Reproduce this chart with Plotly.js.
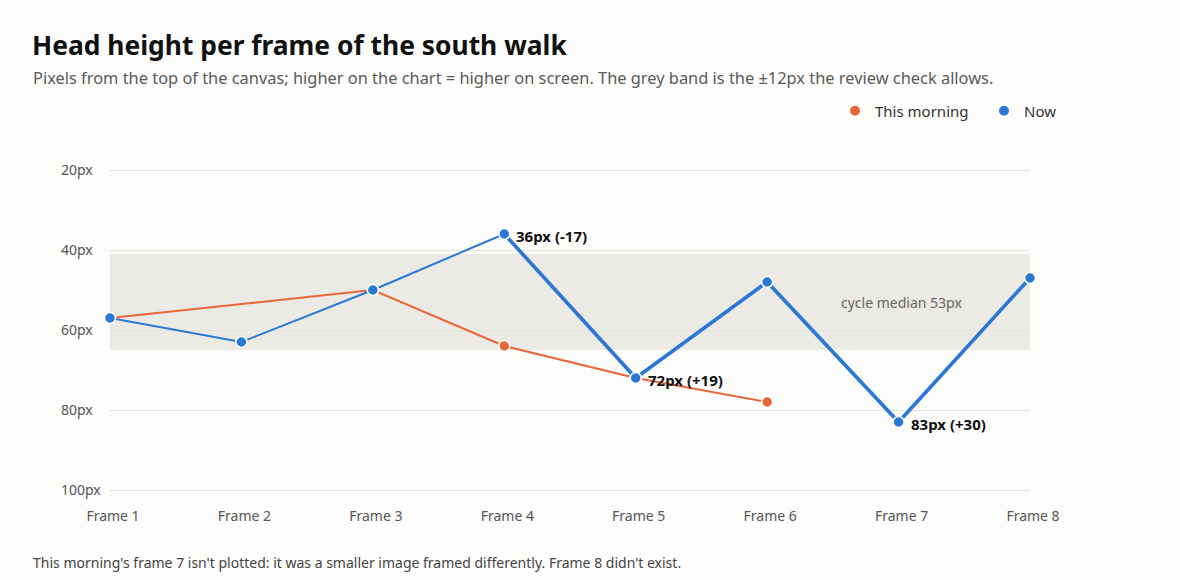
<!DOCTYPE html>
<html>
<head>
<meta charset="utf-8">
<script src="https://cdn.plot.ly/plotly-3.0.1.min.js"></script>
<style>
  html, body { margin: 0; padding: 0; background: #FCFCFB; }
  #chart { width: 1180px; height: 580px; }
</style>
</head>
<body>
<div id="chart"></div>
<script>
const frames = ["Frame 1", "Frame 2", "Frame 3", "Frame 4", "Frame 5", "Frame 6", "Frame 7", "Frame 8"];
const morningValues = [57, null, 50, 64, 72, 78, null, null];
const nowValues = [57, 63, 50, 36, 72, 48, 83, 47];
const highlightFrom = 3; // index of Frame 4, where the thick stretch starts
const medianValue = 53;
const tolerance = 12;
const yTickValues = [20, 40, 60, 80, 100];
const yTickLabels = ["20px", "40px", "60px", "80px", "100px"];
const calloutFrames = ["Frame 4", "Frame 5", "Frame 7"];

const FONT = "'Segoe UI', 'Noto Sans', 'Open Sans', sans-serif";
const ORANGE = "#E8673A";
const BLUE = "#2A77D5";

// plot area geometry (px)
const PLOT_TOP = 168, PLOT_BOTTOM = 492, PLOT_LEFT = 110, PLOT_RIGHT = 1030;
const py = y => (PLOT_BOTTOM - y) / (PLOT_BOTTOM - PLOT_TOP);
const px = x => (x - PLOT_LEFT) / (PLOT_RIGHT - PLOT_LEFT);

const nowThick = nowValues.map((v, i) => (i >= highlightFrom ? v : null));

const traces = [
  { x: frames, y: morningValues, type: "scatter", mode: "lines", connectgaps: true,
    line: { color: ORANGE, width: 2 }, showlegend: false, hoverinfo: "skip", cliponaxis: false },
  { x: frames, y: morningValues, type: "scatter", mode: "markers", name: "This morning",
    marker: { color: ORANGE, size: 11, line: { color: "#FFFFFF", width: 1.5 } }, cliponaxis: false },
  { x: frames, y: nowValues, type: "scatter", mode: "lines",
    line: { color: BLUE, width: 2 }, showlegend: false, hoverinfo: "skip", cliponaxis: false },
  { x: frames, y: nowThick, type: "scatter", mode: "lines",
    line: { color: BLUE, width: 3.6 }, showlegend: false, hoverinfo: "skip", cliponaxis: false },
  { x: frames, y: nowValues, type: "scatter", mode: "markers", name: "Now",
    marker: { color: BLUE, size: 11, line: { color: "#FFFFFF", width: 1.5 } }, cliponaxis: false }
];

const callouts = calloutFrames.map(f => {
  const v = nowValues[frames.indexOf(f)];
  const d = v - medianValue;
  return {
    x: f, y: v, xref: "x", yref: "y",
    text: v + "px (" + (d >= 0 ? "+" : "") + d + ")",
    showarrow: false, xanchor: "left", yanchor: "middle", xshift: 10, yshift: -2,
    font: { family: FONT, size: 15, color: "#111111", weight: "bold" }
  };
});

const layout = {
  width: 1180, height: 580,
  paper_bgcolor: "#FCFCFB", plot_bgcolor: "#FCFCFB",
  margin: { l: PLOT_LEFT, r: 1180 - PLOT_RIGHT, t: PLOT_TOP, b: 580 - PLOT_BOTTOM },
  font: { family: FONT, color: "#555555" },
  title: {
    text: "<b>Head height per frame of the south walk</b>",
    font: { family: FONT, size: 26.4, color: "#111111" },
    x: 32 / 1180, xanchor: "left", xref: "container",
    y: 1 - 46 / 580, yanchor: "middle", yref: "container"
  },
  xaxis: {
    type: "category", categoryorder: "array", categoryarray: frames,
    range: [0, 7], showgrid: false, zeroline: false, showline: false,
    ticks: "outside", ticklen: 11, tickcolor: "rgba(0,0,0,0)", ticklabelshift: 3,
    tickfont: { family: FONT, size: 14, color: "#555555" }, fixedrange: true
  },
  yaxis: {
    range: [100.5, 19.5], tickvals: yTickValues, ticktext: yTickLabels,
    showgrid: true, gridcolor: "#E4E2DD", gridwidth: 1, zeroline: false, showline: false,
    ticks: "", ticklabelposition: "inside", ticklabelstandoff: -52, ticklabeloverflow: "allow",
    tickfont: { family: FONT, size: 14, color: "#555555" }, fixedrange: true
  },
  shapes: [{
    type: "rect", xref: "paper", x0: 0, x1: 1, yref: "y",
    y0: medianValue - tolerance, y1: medianValue + tolerance,
    fillcolor: "#ECEAE5", line: { width: 0 }, layer: "below"
  }],
  legend: {
    orientation: "h", xref: "paper", yref: "paper",
    x: px(1133), xanchor: "right", y: py(111), yanchor: "middle",
    font: { family: FONT, size: 15, color: "#333333" },
    itemwidth: 30, entrywidth: 104, itemsizing: "constant", bgcolor: "rgba(0,0,0,0)"
  },
  annotations: [
    { xref: "paper", yref: "paper", x: px(31), y: py(77),
      xanchor: "left", yanchor: "middle", showarrow: false,
      text: "Pixels from the top of the canvas; higher on the chart = higher on screen. The grey band is the ±" + tolerance + "px the review check allows.",
      font: { family: FONT, size: 16.4, color: "#5A5A5A" } },
    { xref: "x", yref: "y", x: "Frame 7", y: medianValue, xshift: 3,
      xanchor: "center", yanchor: "middle", showarrow: false,
      text: "cycle median " + medianValue + "px",
      font: { family: FONT, size: 14, color: "#666666" } },
    ...callouts,
    { xref: "paper", yref: "paper", x: px(31), y: py(562),
      xanchor: "left", yanchor: "middle", showarrow: false,
      text: "This morning's frame 7 isn't plotted: it was a smaller image framed differently. Frame 8 didn't exist.",
      font: { family: FONT, size: 14, color: "#444444" } }
  ],
  hovermode: false
};

Plotly.newPlot("chart", traces, layout, { displayModeBar: false, staticPlot: true });
</script>
</body>
</html>
